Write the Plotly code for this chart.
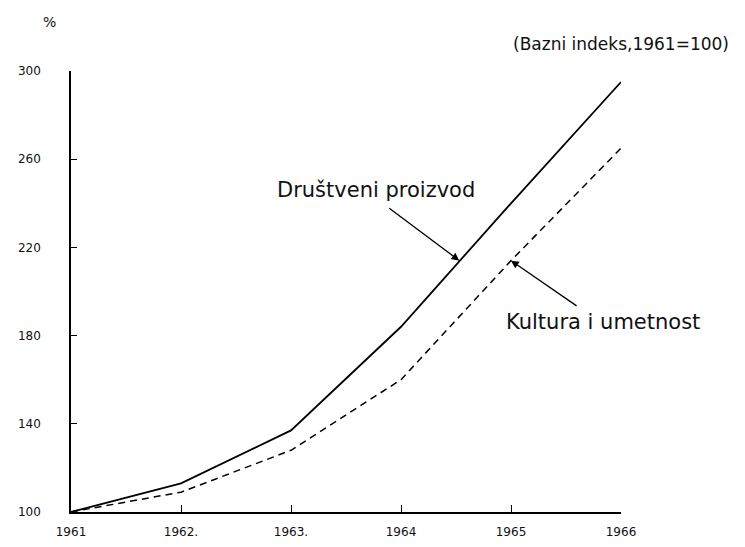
import plotly.graph_objects as go

years = [1961, 1962, 1963, 1964, 1965, 1966]
year_labels = ["1961", "1962.", "1963.", "1964", "1965", "1966"]
drustveni = [100, 113, 137, 184, 240, 295]
kultura = [100, 109, 128, 160, 214, 265]
y_ticks = [100, 140, 180, 220, 260, 300]

FONT = "DejaVu Sans"
INK = "#111"

fig = go.Figure()
fig.add_trace(go.Scatter(x=years, y=drustveni, mode="lines",
                         line=dict(color="black", width=1.8), name="Društveni proizvod"))
fig.add_trace(go.Scatter(x=years, y=kultura, mode="lines",
                         line=dict(color="black", width=1.5, dash="7px,5px"), name="Kultura i umetnost"))

fig.update_layout(
    width=745, height=547,
    margin=dict(l=63, r=132, t=63, b=43, autoexpand=False),
    paper_bgcolor="white", plot_bgcolor="white",
    showlegend=False,
    font=dict(family=FONT, size=12, color=INK),
)
fig.update_xaxes(range=[1961, 1966], tickvals=years, ticktext=year_labels,
                 showgrid=False, zeroline=False, showline=True, linecolor="black", linewidth=1.5,
                 ticks="inside", ticklen=7, tickcolor="black", tickwidth=1.2,
                 ticklabelstandoff=8,
                 tickfont=dict(family=FONT, size=12, color=INK))
fig.update_yaxes(range=[100, 300], tickvals=y_ticks,
                 showgrid=False, zeroline=False, showline=True, linecolor="black", linewidth=1.5,
                 ticks="inside", ticklen=6, tickcolor="black", tickwidth=1.2,
                 ticklabelstandoff=26,
                 tickfont=dict(family=FONT, size=12, color=INK))

fig.add_annotation(x=1963.77, y=246, xref="x", yref="y", text="Društveni proizvod",
                   xanchor="center", yanchor="middle",
                   showarrow=False, font=dict(family=FONT, size=21, color=INK))
fig.add_annotation(x=1965.84, y=186, xref="x", yref="y", text="Kultura i umetnost",
                   xanchor="center", yanchor="middle",
                   showarrow=False, font=dict(family=FONT, size=21, color=INK))
fig.add_annotation(x=1964.53, y=214, ax=1963.88, ay=238.3, xref="x", yref="y",
                   axref="x", ayref="y", text="", showarrow=True,
                   arrowhead=2, arrowsize=1.2, arrowwidth=1.3, arrowcolor="black")
fig.add_annotation(x=1965.0, y=214, ax=1965.61, ay=193, xref="x", yref="y",
                   axref="x", ayref="y", text="", showarrow=True,
                   arrowhead=2, arrowsize=1.2, arrowwidth=1.3, arrowcolor="black")
fig.add_annotation(x=1.0, y=1.061, xref="paper", yref="paper", text="(Bazni indeks,1961=100)",
                   xanchor="center", yanchor="middle",
                   showarrow=False, font=dict(family=FONT, size=17, color=INK))
fig.add_annotation(x=-0.04, y=1.111, xref="paper", yref="paper", text="%",
                   xanchor="center", yanchor="middle",
                   showarrow=False, font=dict(family=FONT, size=14, color=INK))

fig.write_html("out.html")
